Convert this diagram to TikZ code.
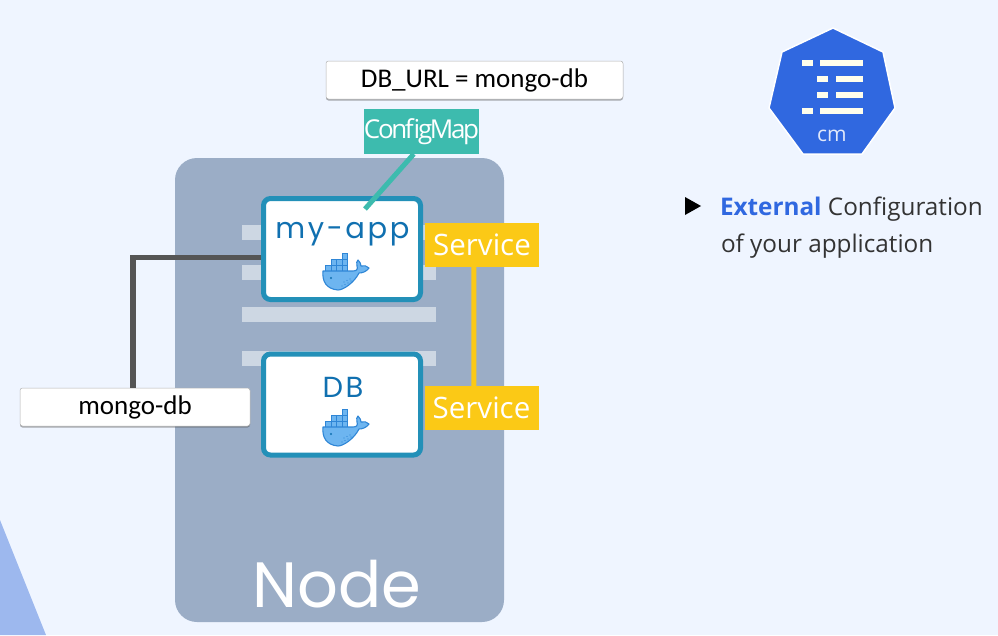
\documentclass[tikz,border=0pt]{standalone}
\usepackage{fontspec}
\usetikzlibrary{shadows}
\setmainfont{Open Sans}
\newfontfamily\labfont{Carlito}
\newfontfamily\popfont{Poppins}
\newfontfamily\popwide[LetterSpace=9]{Poppins}
\definecolor{pagebg}{HTML}{EFF5FF}
\definecolor{cornerblue}{HTML}{9DB8EE}
\definecolor{nodegray}{HTML}{9BADC6}
\definecolor{rowgray}{HTML}{CDD7E3}
\definecolor{podblue}{HTML}{2390B8}
\definecolor{podtext}{HTML}{1070B0}
\definecolor{svcyellow}{HTML}{FBC916}
\definecolor{cmteal}{HTML}{3DBBAE}
\definecolor{linkgray}{HTML}{555555}
\definecolor{cmblue}{HTML}{3068E0}
\definecolor{whalefill}{HTML}{6DB5F0}
\definecolor{whaleline}{HTML}{2F86D6}
\begin{document}
\begin{tikzpicture}[x=1pt,y=-1pt,
  box/.style={inner sep=0pt,outer sep=0pt},
  worker/.style={box,rounded corners=22pt,fill=nodegray,minimum width=329pt,minimum height=464pt},
  row/.style={box,fill=rowgray,minimum width=194pt,minimum height=15pt},
  pod/.style={box,rounded corners=7pt,fill=white,draw=podblue,line width=5pt,minimum width=157pt,minimum height=101pt},
  podname/.style={box,text=podtext,font=\fontsize{29}{32}\selectfont\popwide},
  svc/.style={box,fill=svcyellow,text=white,minimum width=114pt,minimum height=44pt,font=\fontsize{29.5}{32}\selectfont},
  lab/.style={box,rounded corners=2.5pt,fill=white,draw=black!30,line width=.5pt,minimum height=38pt,
    font=\fontsize{27}{30}\selectfont\labfont,drop shadow={shadow xshift=0pt,shadow yshift=-1.5pt,opacity=.45,fill=black!70}},
  cmtag/.style={box,fill=cmteal,text=white,minimum width=113pt,minimum height=45pt,font=\fontsize{26}{30}\selectfont\addfontfeature{LetterSpace=-9}},
  link/.style={line width=5.5pt,color=linkgray},
  cmbar/.style={fill=white!92!yellow},
  whalepic/.pic={
    % containers, then the hull
    \foreach \xx/\yy in {-4/-18,-15/-12,-9.5/-12,-4/-12,-20.5/-6,-15/-6,-9.5/-6,-4/-6}
      \draw[whaleline,fill=whalefill,line width=.7pt] (\xx,\yy) rectangle ++(5.5,6);
    \draw[whaleline,fill=whalefill,line width=1.1pt,line join=round]
      (-23,0) -- (7,0) .. controls (11,0) and (12,-2) .. (11,-5)
      .. controls (10,-8) and (11,-10) .. (12,-11)
      .. controls (14,-9) and (15,-7) .. (15,-5)
      .. controls (18,-6) and (21,-5) .. (23,-3)
      .. controls (20,1) and (16,2) .. (13,2)
      .. controls (8,12) and (-3,19) .. (-8,19)
      .. controls (-20,18) and (-24,10) .. (-23,0) -- cycle;
    \fill[podtext] (-15,7) circle (1.1);
    \foreach \xx/\yy in {-4/15,-1/13.5,2/12,5/10,-2/11,1/9.5,4/8}
      \fill[whaleline] (\xx,\yy) circle (.6);
  }]
  \fill[pagebg] (0,0) rectangle (998,635);
  \useasboundingbox (0,0) rectangle (998,635);
  \fill[cornerblue] (0,520) -- (46,635) -- (0,635) -- cycle;

  % worker with its rows and the two pods
  \node[worker] (worker) at (339.5,390) {};
  \foreach \name/\yy in {rowa/232.5,rowb/272.5,rowc/314.5,rowd/358.5}
    \node[row] (\name) at (339,\yy) {};
  \node[pod] (app) at (342,249) {};
  \node[pod] (db) at (342,404.5) {};
  \node[podname] (appname) at (342.5,234) {my-app};
  \node[podname] (dbname) at (343,387) {DB};
  \pic at (346,271) {whalepic};
  \pic at (346,427) {whalepic};
  \node[box,text=white,font=\fontsize{64}{70}\selectfont\popfont] (workername) at (337,584) {Node};

  % services
  \node[svc] (svcapp) at (482,245) {Service};
  \node[svc] (svcdb) at (481.5,408) {Service};
  \draw[svcyellow,line width=5pt] (svcapp.250) -- (svcdb.109);

  % config map
  \node[lab,minimum width=297pt] (dburl) at (474.5,80) {DB\_URL = mongo-db};
  \node[cmtag] (cfgmap) at (421.5,131.5) {ConfigMap};
  \coordinate (cfgend) at (365,209);
  \draw[cmteal,line width=5pt] (cfgmap.251) -- (cfgend);

  % database url
  \node[lab,minimum width=230pt] (mongo) at (135,407) {mongo-db};
  \draw[link,shorten <=2.5pt] (app.186) -| (mongo.96);

  % config map icon
  \draw[cmblue,fill=cmblue,draw=white,line width=1.5pt,line join=round]
    (833,28) -- (883,52) -- (895,108) -- (862,154) -- (803,154) -- (769,108) -- (782,52) -- cycle;
  \foreach \yy/\xa/\xb/\xc/\xd in {63/802/813/820/863,79/817/828/836/863,95/817/828/836/863,111/802/813/820/863} {
    \fill[cmbar] (\xa,\yy-3) rectangle (\xb,\yy+3);
    \fill[cmbar] (\xc,\yy-3) rectangle (\xd,\yy+3);
  }
  \node[box,text=white!85!cmblue,font=\fontsize{21}{24}\selectfont] (cmtext) at (832,136) {cm};

  % note on the right
  \fill[black] (685,197) -- (701,206) -- (685,215) -- cycle;
  \node[box,anchor=base west,font=\fontsize{24.3}{28}\selectfont,text=black!80] (notea) at (720,215)
    {\textcolor{cmblue}{\textbf{External}} Configuration};
  \node[box,anchor=base west,font=\fontsize{24.3}{28}\selectfont,text=black!80] (noteb) at (721,252)
    {of your application};
\end{tikzpicture}
\end{document}
